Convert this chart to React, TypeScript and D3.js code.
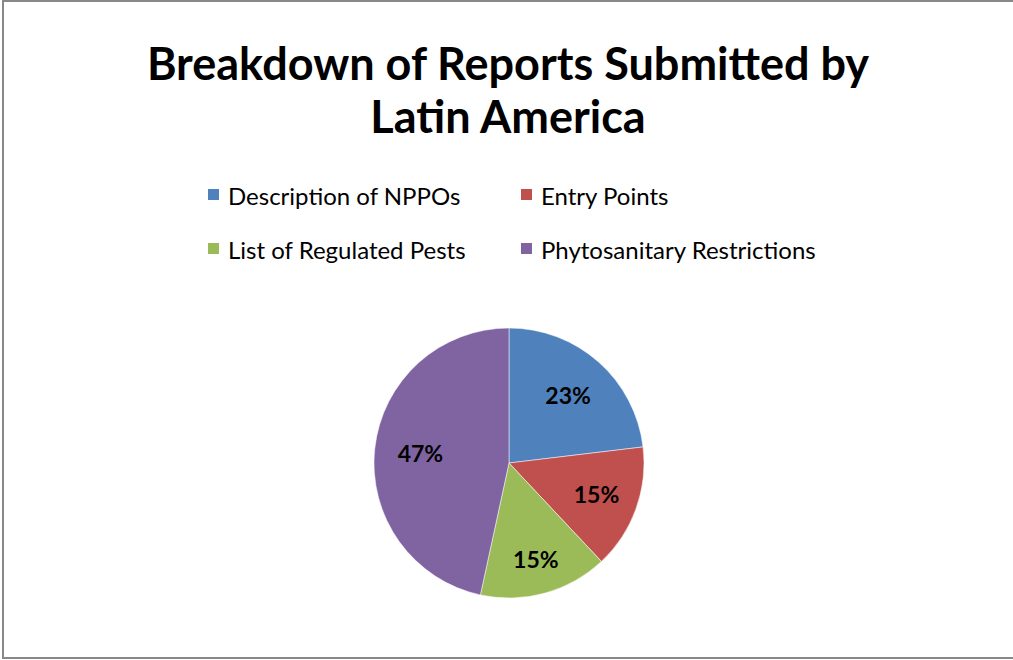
import React from "react";
import * as d3 from "d3";

const categories = ["Description of NPPOs", "Entry Points", "List of Regulated Pests", "Phytosanitary Restrictions"];
const values = [23.1, 14.9, 15.4, 46.6];
const colors = ["#4F81BD", "#C0504D", "#9BBB59", "#8064A2"];
const titleLines = ["Breakdown of Reports Submitted by", "Latin America"];

const W = 1013;
const H = 660;
const FONT = "Lato, 'Open Sans', sans-serif";
// label placement (fraction of radius) per slice, as in the reference
const labelRadius = [0.66, 0.69, 0.745, 0.66];

export default function App() {
  const cx = 509;
  const cy = 463;
  const r = 135;
  const total = d3.sum(values);
  const pie = d3.pie<number>().sort(null).value((d) => d);
  const arcs = pie(values);
  const arc = d3.arc<d3.PieArcDatum<number>>().innerRadius(0).outerRadius(r);

  const legendX = [208, 521];
  const legendY = [197, 251];

  return (
    <div style={{ position: "fixed", left: 0, top: 0 }}>
      <svg width={W} height={H} style={{ display: "block", background: "#fff" }}>
        <rect x={3} y={1} width={1030} height={657} fill="#fff" stroke="#888" strokeWidth={2} />
        {titleLines.map((t, i) => (
          <text key={i} x={508} y={80 + i * 53} textAnchor="middle" fontFamily={FONT} fontWeight="bold" fontSize={45} fill="#000">
            {t}
          </text>
        ))}
        {categories.map((c, i) => {
          const col = i % 2;
          const row = Math.floor(i / 2);
          return (
            <g key={c} transform={`translate(${legendX[col]},${legendY[row]})`}>
              <rect x={0} y={-8} width={11} height={11} fill={colors[i]} />
              <text x={20} y={0} dy="0.35em" fontFamily={FONT} fontSize={24} fill="#000">
                {c}
              </text>
            </g>
          );
        })}
        <g transform={`translate(${cx},${cy})`}>
          {arcs.map((a, i) => (
            <path key={i} d={arc(a) || ""} fill={colors[i]} stroke="#fff" strokeWidth={0.5} />
          ))}
          {arcs.map((a, i) => {
            const lr = r * labelRadius[i];
            const [lx, ly] = d3.arc<d3.PieArcDatum<number>>().innerRadius(lr).outerRadius(lr).centroid(a);
            return (
              <text key={"l" + i} x={lx} y={ly} dy="0.35em" textAnchor="middle" fontFamily={FONT} fontWeight="bold" fontSize={23} fill="#000">
                {Math.round((values[i] / total) * 100) + "%"}
              </text>
            );
          })}
        </g>
      </svg>
    </div>
  );
}
